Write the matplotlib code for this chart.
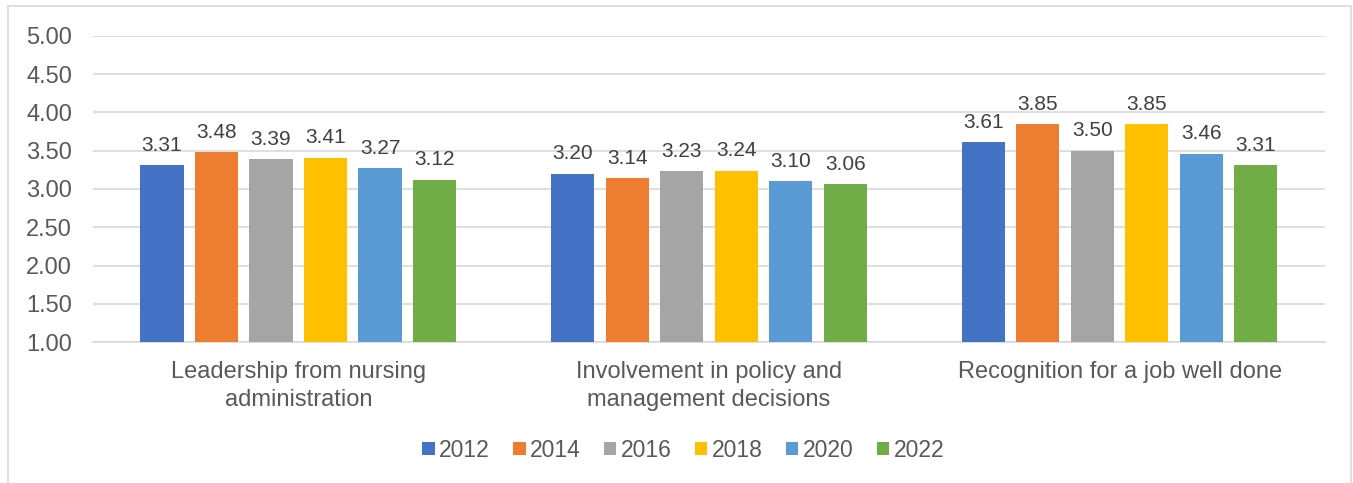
import matplotlib
matplotlib.use("Agg")
import matplotlib.pyplot as plt
from matplotlib.patches import Rectangle
import numpy as np

categories = ["Leadership from nursing\nadministration",
              "Involvement in policy and\nmanagement decisions",
              "Recognition for a job well done"]
years = ["2012", "2014", "2016", "2018", "2020", "2022"]
values = {
    "2012": [3.31, 3.20, 3.61],
    "2014": [3.48, 3.14, 3.85],
    "2016": [3.39, 3.23, 3.50],
    "2018": [3.41, 3.24, 3.85],
    "2020": [3.27, 3.10, 3.46],
    "2022": [3.12, 3.06, 3.31],
}
colors = ["#4472C4", "#ED7D31", "#A5A5A5", "#FFC000", "#5B9BD5", "#70AD47"]

plt.rcParams['font.family'] = ['Liberation Sans', 'DejaVu Sans']
txt = "#595959"

fig = plt.figure(figsize=(13.53, 4.83), dpi=100)
ax = fig.add_axes([0.0687, 0.2919, 0.9106, 0.6336])

x = np.arange(len(categories))
step = 0.1327
width = 0.105
for i, yr in enumerate(years):
    pos = x + (i - 2.5) * step
    ax.bar(pos, np.array(values[yr]) - 1.0, width, bottom=1.0,
           color=colors[i], label=yr, zorder=3)
    for p, v in zip(pos, values[yr]):
        ax.annotate(f"{v:.2f}", (p, v), xytext=(0, 7.5), textcoords="offset points",
                    ha="center", va="bottom", fontsize=15, color="#404040")

ax.set_xlim(-0.5, 2.5)
ax.set_ylim(1.0, 5.0)
ax.set_yticks(np.arange(1.0, 5.01, 0.5))
ax.set_yticklabels([f"{t:.2f}" for t in np.arange(1.0, 5.01, 0.5)])
ax.set_xticks(x)
ax.set_xticklabels(categories, fontsize=17, linespacing=1.35)
ax.tick_params(axis="y", labelsize=17)
ax.tick_params(axis="both", length=0, labelcolor=txt)
ax.tick_params(axis="x", pad=14)
ax.tick_params(axis="y", pad=15)
ax.grid(axis="y", color="#D9D9D9", linewidth=1.2, zorder=0)
for s in ["top", "right", "left"]:
    ax.spines[s].set_visible(False)
ax.spines["bottom"].set_color("#D9D9D9")
ax.spines["bottom"].set_linewidth(1.2)

fig.legend(loc="center", bbox_to_anchor=(0.505, 0.068), ncol=6, frameon=False,
           fontsize=16.5, handlelength=0.55, handleheight=0.55, handletextpad=0.2,
           columnspacing=1.0, labelcolor=txt)

fig.patches.append(Rectangle((8 / 1353, -0.02), (1351 - 8) / 1353, 1.02 - 6 / 483,
                             transform=fig.transFigure, fill=False,
                             edgecolor="#D9D9D9", linewidth=1.2))

fig.savefig("out.png", dpi=100, facecolor="white")
